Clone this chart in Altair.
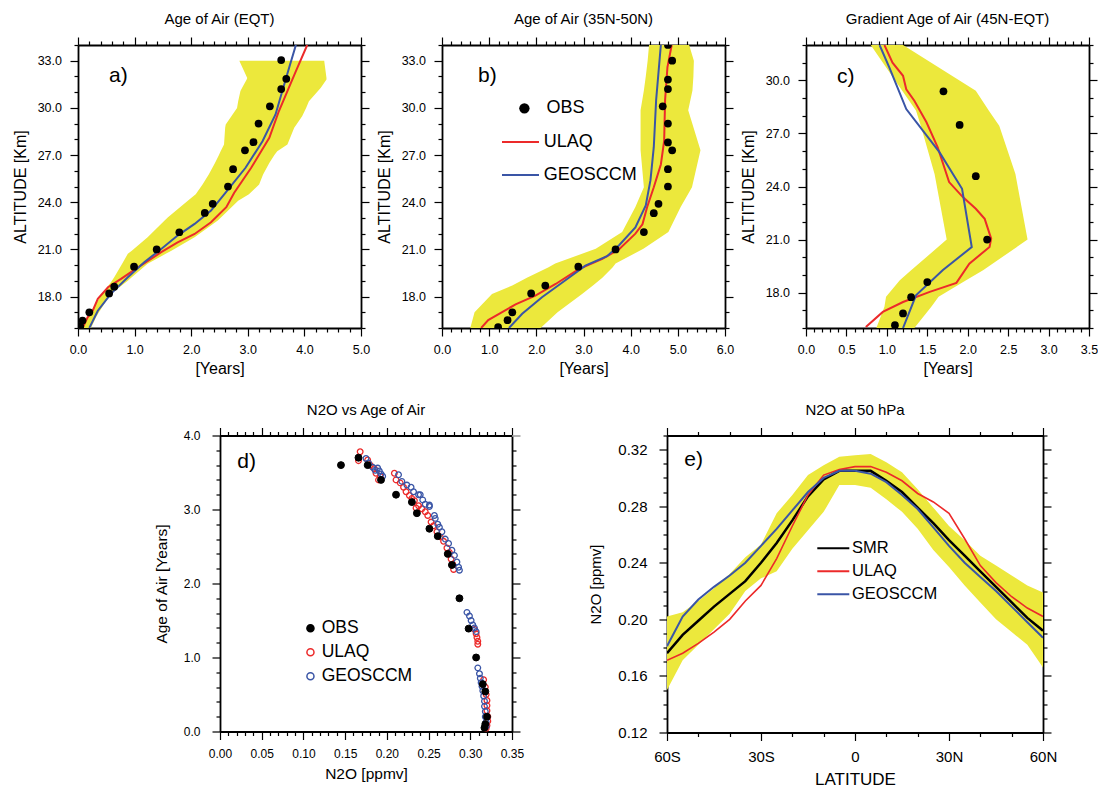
import altair as alt
import pandas as pd

FONT = "Liberation Sans"
YELLOW = "#ece83c"
RED = "#ec2a2a"
BLUE = "#3a55a6"
LINE_SYMBOL = "M-2,0L2,0"

# ---------------- panel a : Age of Air (EQT) ----------------
a_obs_age = [3.59, 3.68, 3.59, 3.39, 3.19, 3.10, 2.95, 2.74, 2.65, 2.38, 2.24, 1.79, 1.39, 0.99, 0.64, 0.55, 0.20, 0.08, 0.04]
a_obs_alt = [33.04, 31.85, 31.2, 30.1, 29.0, 27.82, 27.3, 26.1, 25.0, 23.9, 23.32, 22.09, 21.0, 19.9, 18.63, 18.2, 17.0, 16.47, 16.1]
a_ulaq_age = [0.08, 0.17, 0.26, 0.35, 0.53, 0.76, 1.06, 1.47, 1.76, 2.06, 2.35, 2.62, 2.76, 3.06, 3.38, 3.55, 3.70, 3.85, 4.05]
a_ulaq_alt = [16.0, 16.68, 17.1, 17.85, 18.59, 19.12, 19.86, 20.82, 21.45, 21.98, 22.73, 23.68, 24.6, 26.19, 28.1, 29.8, 31.07, 32.34, 34.0]
a_geos_age = [0.20, 0.35, 0.58, 0.88, 1.17, 1.47, 1.76, 2.06, 2.35, 2.59, 2.96, 3.26, 3.49, 3.61, 3.73, 3.85]
a_geos_alt = [16.0, 17.1, 18.17, 19.23, 20.18, 21.03, 21.88, 22.62, 23.47, 24.53, 26.19, 27.88, 29.58, 31.07, 32.55, 34.0]
a_band_alt = [16.0, 16.7, 17.0, 17.74, 18.17, 19.0, 19.22, 20.08, 20.72, 20.92, 21.77, 22.83, 23.05, 24.1, 24.5,
              25.13, 25.76, 26.5, 27.0, 27.25, 27.67, 28.73, 28.94, 29.47, 30.0, 30.43, 31.07, 31.28, 31.81, 31.9, 33.0]
a_band_lo = [0.06, 0.17, 0.22, 0.35, 0.43, 0.60, 0.64, 0.78, 0.88, 0.95, 1.23, 1.53, 1.59, 1.94, 2.08,
             2.20, 2.31, 2.42, 2.49, 2.52, 2.58, 2.60, 2.61, 2.71, 2.81, 2.83, 2.87, 2.90, 2.98, 2.99, 2.85]
a_band_hi = [0.23, 0.32, 0.37, 0.50, 0.58, 0.88, 0.95, 1.23, 1.55, 1.65, 2.06, 2.47, 2.53, 2.83, 3.02,
             3.20, 3.27, 3.38, 3.47, 3.52, 3.70, 3.82, 3.86, 3.96, 4.03, 4.08, 4.24, 4.29, 4.39, 4.39, 4.35]

# ---------------- panel b : Age of Air (35N-50N) ----------------
b_obs_age = [4.79, 4.88, 4.79, 4.79, 4.68, 4.79, 4.79, 4.88, 4.79, 4.79, 4.59, 4.49, 4.28, 3.68, 2.89, 2.19, 1.89, 1.49, 1.39, 1.19]
b_obs_alt = [34.0, 33.0, 31.8, 31.2, 30.1, 29.0, 27.8, 27.3, 26.1, 25.0, 23.9, 23.3, 22.1, 21.0, 19.9, 18.7, 18.2, 17.0, 16.5, 16.05]
b_ulaq_age = [0.83, 0.98, 1.56, 1.98, 2.41, 2.90, 3.40, 3.75, 4.10, 4.25, 4.35, 4.49, 4.64, 4.71, 4.73, 4.78, 4.87]
b_ulaq_alt = [16.0, 16.5, 17.5, 18.06, 18.8, 19.75, 20.4, 21.0, 22.0, 22.6, 23.7, 24.95, 26.4, 27.9, 30.5, 32.6, 34.0]
b_geos_age = [1.42, 1.70, 2.12, 2.69, 3.04, 3.50, 3.75, 4.10, 4.32, 4.42, 4.49, 4.54, 4.64]
b_geos_alt = [16.0, 16.9, 17.96, 19.2, 19.97, 20.57, 21.25, 22.4, 23.8, 25.4, 27.5, 30.5, 34.0]
b_band_alt = [16.0, 17.0, 18.17, 18.7, 19.2, 19.87, 20.1, 21.04, 22.1, 23.7, 24.95, 27.3, 29.85, 31.1, 32.0, 33.0, 34.0]
b_band_lo = [0.60, 0.69, 1.06, 1.49, 1.80, 2.26, 2.40, 3.26, 3.82, 4.10, 4.28, 4.21, 4.21, 4.28, 4.32, 4.36, 4.39]
b_band_hi = [2.09, 2.45, 2.97, 3.20, 3.40, 3.62, 3.68, 4.27, 4.80, 5.06, 5.30, 5.48, 5.22, 5.31, 5.33, 5.34, 5.24]

# ---------------- panel c : Gradient Age of Air (45N-EQT) ----------------
c_obs_age = [1.70, 1.90, 2.10, 2.24, 1.50, 1.30, 1.20, 1.10]
c_obs_alt = [29.38, 27.48, 24.58, 21.0, 18.6, 17.74, 16.82, 16.16]
c_ulaq_age = [0.74, 0.95, 1.20, 1.53, 1.86, 2.02, 2.27, 2.29, 2.21, 2.10, 1.94, 1.77, 1.63, 1.49, 1.34, 1.24, 1.20, 1.07, 0.97]
c_ulaq_alt = [16.06, 16.91, 17.47, 18.04, 18.55, 19.64, 20.58, 21.05, 22.17, 22.74, 23.4, 24.25, 26.2, 27.63, 28.85, 29.5, 30.26, 31.0, 32.0]
c_geos_age = [1.20, 1.36, 1.69, 2.05, 1.93, 1.65, 1.24, 1.03, 0.91]
c_geos_alt = [16.0, 17.85, 19.26, 20.58, 23.87, 25.94, 28.38, 30.73, 32.0]
c_band_alt = [16.0, 17.2, 17.76, 18.7, 19.26, 21.0, 24.7, 27.44, 28.3, 29.42, 32.0]
c_band_lo = [0.87, 0.97, 0.99, 1.16, 1.30, 1.74, 1.59, 1.42, 1.36, 1.19, 0.80]
c_band_hi = [1.34, 1.55, 1.64, 1.98, 2.19, 2.74, 2.59, 2.39, 2.26, 2.10, 1.20]

# ---------------- panel d : N2O vs Age of Air ----------------
d_obs_n2o = [0.145, 0.166, 0.177, 0.193, 0.211, 0.230, 0.236, 0.251, 0.261, 0.273, 0.278, 0.287, 0.298, 0.307, 0.315, 0.318, 0.320, 0.318, 0.317]
d_obs_age = [3.60, 3.70, 3.60, 3.40, 3.20, 3.10, 2.95, 2.74, 2.64, 2.40, 2.25, 1.80, 1.39, 1.00, 0.64, 0.54, 0.20, 0.10, 0.05]
d_ulaq_n2o = [0.168, 0.166, 0.177, 0.180, 0.185, 0.187, 0.190, 0.192,
              0.209, 0.211, 0.216, 0.220, 0.223, 0.227, 0.230, 0.233, 0.235, 0.238, 0.242, 0.246, 0.249,
              0.253, 0.256, 0.260, 0.264, 0.268, 0.272, 0.275, 0.277, 0.279, 0.280,
              0.305, 0.307, 0.308, 0.309, 0.309,
              0.316, 0.318, 0.319, 0.320, 0.320, 0.320, 0.321, 0.321, 0.320, 0.319]
d_ulaq_age = [3.78, 3.66, 3.67, 3.60, 3.55, 3.49, 3.40, 3.45,
              3.49, 3.40, 3.36, 3.30, 3.24, 3.19, 3.15, 3.12, 3.02, 3.05, 3.01, 2.97, 2.92,
              2.83, 2.78, 2.70, 2.63, 2.57, 2.48, 2.42, 2.33, 2.26, 2.19,
              1.38, 1.32, 1.27, 1.22, 1.18,
              0.70, 0.60, 0.50, 0.42, 0.35, 0.28, 0.20, 0.14, 0.08, 0.04]
d_geos_n2o = [0.175, 0.178, 0.183, 0.189, 0.191, 0.193, 0.195, 0.186,
              0.214, 0.218, 0.224, 0.229, 0.232, 0.238, 0.240, 0.243, 0.246, 0.251, 0.251, 0.257,
              0.258, 0.261, 0.263, 0.266, 0.270, 0.274, 0.278, 0.281, 0.284, 0.286, 0.287,
              0.296, 0.299, 0.301, 0.303, 0.305, 0.307,
              0.309, 0.311, 0.312, 0.313, 0.314, 0.315, 0.316, 0.317, 0.317, 0.318, 0.318, 0.319, 0.319]
d_geos_age = [3.69, 3.63, 3.57, 3.56, 3.52, 3.48, 3.45, 3.53,
              3.47, 3.38, 3.33, 3.30, 3.24, 3.20, 3.20, 3.13, 3.07, 3.04, 3.06, 2.92,
              2.88, 2.80, 2.76, 2.70, 2.60, 2.54, 2.45, 2.38, 2.29, 2.22, 2.18,
              1.61, 1.56, 1.50, 1.44, 1.40, 1.35,
              0.86, 0.78, 0.72, 0.66, 0.61, 0.55, 0.48, 0.41, 0.34, 0.27, 0.20, 0.13, 0.07]

# ---------------- panel e : N2O at 50 hPa ----------------
e_lat = [-60, -55, -50, -45, -40, -35, -30, -25, -20, -15, -10, -5, 0, 5, 10, 15, 20, 25, 30, 35, 40, 45, 50, 55, 60]
e_smr = [0.176, 0.189, 0.199, 0.209, 0.218, 0.227, 0.240, 0.254, 0.270, 0.287, 0.299, 0.305, 0.305, 0.305, 0.298, 0.290, 0.279, 0.268, 0.256, 0.245, 0.234, 0.223, 0.212, 0.201, 0.192]
e_ulaq = [0.171, 0.176, 0.183, 0.191, 0.200, 0.213, 0.224, 0.243, 0.266, 0.288, 0.302, 0.306, 0.308, 0.308, 0.304, 0.298, 0.289, 0.283, 0.275, 0.257, 0.238, 0.226, 0.216, 0.208, 0.202]
e_geos = [0.181, 0.202, 0.214, 0.223, 0.231, 0.240, 0.252, 0.264, 0.277, 0.290, 0.300, 0.305, 0.305, 0.303, 0.297, 0.288, 0.278, 0.265, 0.252, 0.240, 0.230, 0.220, 0.209, 0.198, 0.187]
e_band_lo = [0.150, 0.171, 0.182, 0.193, 0.204, 0.220, 0.229, 0.234, 0.250, 0.263, 0.276, 0.295, 0.295, 0.293, 0.285, 0.276, 0.264, 0.249, 0.237, 0.224, 0.212, 0.200, 0.191, 0.182, 0.166]
e_band_hi = [0.202, 0.205, 0.213, 0.222, 0.232, 0.244, 0.253, 0.275, 0.288, 0.302, 0.309, 0.315, 0.316, 0.317, 0.311, 0.304, 0.292, 0.279, 0.266, 0.256, 0.245, 0.238, 0.231, 0.224, 0.219]


def ticks(start, stop, step):
    n = int(round((stop - start) / step))
    return [round(start + i * step, 4) for i in range(n + 1)]


def multiple_of(m):
    return f"abs(datum.value / {m} - round(datum.value / {m})) < 1e-6"


def num_labels(test, fmt):
    return f"{test} ? format(datum.value, '{fmt}') : ''"


def make_axis(orient, values, test, labels=None, title=None, lsize=12.5, tsize=16, tpad=8, lpad=6):
    kw = dict(orient=orient, values=values, grid=False, domain=True, domainColor="black",
              domainWidth=1.8, ticks=True, tickColor="black", tickWidth=1.2,
              tickSize={"condition": {"test": test, "value": 8}, "value": 4})
    if labels:
        kw.update(labels=True, labelExpr=labels, labelFont=FONT, labelFontSize=lsize,
                  labelColor="black", labelPadding=lpad, labelFlush=False, labelOverlap=False)
    else:
        kw.update(labels=False)
    if title:
        kw.update(title=title, titleFont=FONT, titleFontSize=tsize, titleFontWeight="normal",
                  titleColor="black", titlePadding=tpad)
    else:
        kw["title"] = None
    return alt.Axis(**kw)


def panel_title(text):
    return alt.TitleParams(text=text, font=FONT, fontSize=15, fontWeight="normal",
                           color="black", offset=9)


def letter_layer(letter, x, y):
    return alt.Chart(pd.DataFrame({"t": [letter]})).mark_text(
        align="left", baseline="alphabetic", font=FONT, fontSize=21, color="black"
    ).encode(text="t:N", x=alt.value(x), y=alt.value(y))


def profile_panel(title, letter, lpos, obs_x, obs_y, ul_x, ul_y, ge_x, ge_y,
                  band_y, band_lo, band_hi, xdom, xstep_minor, xmajor, ydom, legends=False):
    xs = alt.Scale(domain=xdom, nice=False, zero=False)
    ys = alt.Scale(domain=ydom, nice=False, zero=False)
    xvals = ticks(xdom[0], xdom[1], xstep_minor)
    yvals = ticks(ydom[0], ydom[1], 1)
    xt = multiple_of(xmajor)
    yt = multiple_of(3)
    xb = make_axis("bottom", xvals, xt, num_labels(xt, ".1f"), "[Years]", tpad=5, lpad=7)
    yl = make_axis("left", yvals, yt, num_labels(yt, ".1f"), "ALTITUDE [Km]", tpad=9, lpad=8.5)
    xtop = make_axis("top", xvals, xt)
    yright = make_axis("right", yvals, yt)

    band_df = pd.DataFrame({"alt": band_y, "lo": band_lo, "hi": band_hi})
    lines_df = pd.DataFrame({
        "age": ul_x + ge_x,
        "alt": ul_y + ge_y,
        "model": ["ULAQ"] * len(ul_x) + ["GEOSCCM"] * len(ge_x),
    })
    obs_df = pd.DataFrame({"age": obs_x, "alt": obs_y, "k": ["OBS"] * len(obs_x)})

    band = alt.Chart(band_df).mark_area(orient="horizontal", color=YELLOW, clip=True).encode(
        y=alt.Y("alt:Q", scale=ys, axis=yl), x=alt.X("lo:Q", scale=xs, axis=xb), x2="hi:Q")

    if legends:
        line_leg = alt.Legend(orient="none", legendX=68, legendY=86.5, title=None,
                              symbolType=LINE_SYMBOL, symbolSize=342, symbolStrokeWidth=2,
                              labelFont=FONT, labelFontSize=18, labelColor="black",
                              labelOffset=12.7, rowPadding=13, padding=0)
    else:
        line_leg = None
    lines = alt.Chart(lines_df).mark_line(strokeWidth=2, clip=True).encode(
        x=alt.X("age:Q", scale=xs, axis=xb), y=alt.Y("alt:Q", scale=ys, axis=yl),
        stroke=alt.Stroke("model:N", scale=alt.Scale(domain=["ULAQ", "GEOSCCM"], range=[RED, BLUE]),
                          legend=line_leg),
        order="alt:Q")

    enc = dict(x=alt.X("age:Q", scale=xs, axis=xb), y=alt.Y("alt:Q", scale=ys, axis=yl))
    if legends:
        enc["shape"] = alt.Shape("k:N", scale=alt.Scale(domain=["OBS"], range=["circle"]),
                                 legend=alt.Legend(orient="none", legendX=73.4, legendY=54.3, title=None,
                                                   symbolSize=107, symbolFillColor="black",
                                                   symbolStrokeColor="black", labelFont=FONT,
                                                   labelFontSize=18, labelColor="black",
                                                   labelOffset=13, padding=0))
    dots = alt.Chart(obs_df).mark_point(filled=True, size=60, color="black", opacity=1, clip=True).encode(**enc)

    frame = alt.Chart(obs_df).mark_point(opacity=0).encode(
        x=alt.X("age:Q", scale=xs, axis=xtop), y=alt.Y("alt:Q", scale=ys, axis=yright))

    inner = alt.layer(band, lines, dots, letter_layer(letter, *lpos))
    return alt.layer(inner, frame).resolve_axis(x="independent", y="independent").properties(
        width=283, height=283, title=panel_title(title))


pa = profile_panel("Age of Air (EQT)", "a)", (31, 36.5), a_obs_age, a_obs_alt, a_ulaq_age, a_ulaq_alt,
                   a_geos_age, a_geos_alt, a_band_alt, a_band_lo, a_band_hi, [0, 5], 0.2, 1, [16, 34])
pb = profile_panel("Age of Air (35N-50N)", "b)", (36, 36.5), b_obs_age, b_obs_alt, b_ulaq_age, b_ulaq_alt,
                   b_geos_age, b_geos_alt, b_band_alt, b_band_lo, b_band_hi, [0, 6], 0.2, 1, [16, 34],
                   legends=True)
pc = profile_panel("Gradient Age of Air (45N-EQT)", "c)", (31, 37.5), c_obs_age, c_obs_alt, c_ulaq_age,
                   c_ulaq_alt, c_geos_age, c_geos_alt, c_band_alt, c_band_lo, c_band_hi, [0, 3.5], 0.1,
                   0.5, [16, 32])

# ---------------- panel d ----------------
d_xs = alt.Scale(domain=[0, 0.35], nice=False, zero=False)
d_ys = alt.Scale(domain=[0, 4], nice=False, zero=False)
d_xvals = ticks(0, 0.35, 0.01)
d_yvals = ticks(0, 4, 0.2)
d_xt = multiple_of(0.05)
d_yt = multiple_of(1)
d_xb = make_axis("bottom", d_xvals, d_xt, num_labels(d_xt, ".2f"), "N2O [ppmv]", lsize=12, tsize=15.5, tpad=7, lpad=9)
d_yl = make_axis("left", d_yvals, d_yt, num_labels(d_yt, ".1f"), "Age of Air [Years]", lsize=12, tsize=15.5, tpad=14, lpad=12)
d_xtop = make_axis("top", d_xvals, d_xt)
d_yright = make_axis("right", d_yvals, d_yt)

d_models = pd.DataFrame({
    "n2o": d_ulaq_n2o + d_geos_n2o,
    "age": d_ulaq_age + d_geos_age,
    "series": ["ULAQ"] * len(d_ulaq_n2o) + ["GEOSCCM"] * len(d_geos_n2o),
})
d_obs = pd.DataFrame({"n2o": d_obs_n2o, "age": d_obs_age, "series": ["OBS"] * len(d_obs_n2o)})
d_dom = ["OBS", "ULAQ", "GEOSCCM"]
d_leg = alt.Legend(orient="none", legendX=81.7, legendY=184, title=None, symbolSize=50,
                   symbolStrokeWidth=1.5, labelFont=FONT, labelFontSize=17.5, labelColor="black",
                   labelOffset=2.5, rowPadding=5, padding=0)
d_fill = alt.Fill("series:N", scale=alt.Scale(domain=d_dom, range=["black", "transparent", "transparent"]), legend=d_leg)
d_stroke = alt.Stroke("series:N", scale=alt.Scale(domain=d_dom, range=["black", RED, BLUE]), legend=d_leg)
d_ring = alt.Chart(d_models).mark_point(size=32, strokeWidth=1.3, opacity=1, clip=True).encode(
    x=alt.X("n2o:Q", scale=d_xs, axis=d_xb), y=alt.Y("age:Q", scale=d_ys, axis=d_yl),
    fill=d_fill, stroke=d_stroke)
d_dot = alt.Chart(d_obs).mark_point(size=48, strokeWidth=1, opacity=1, clip=True).encode(
    x=alt.X("n2o:Q", scale=d_xs, axis=d_xb), y=alt.Y("age:Q", scale=d_ys, axis=d_yl),
    fill=d_fill, stroke=d_stroke)
d_frame = alt.Chart(d_obs).mark_point(opacity=0).encode(
    x=alt.X("n2o:Q", scale=d_xs, axis=d_xtop), y=alt.Y("age:Q", scale=d_ys, axis=d_yright))
pd_ = alt.layer(alt.layer(d_ring, d_dot, letter_layer("d)", 17.3, 32.8)), d_frame).resolve_axis(
    x="independent", y="independent").properties(width=292, height=296, title=panel_title("N2O vs Age of Air"))

# ---------------- panel e ----------------
e_xs = alt.Scale(domain=[-60, 60], nice=False, zero=False)
e_ys = alt.Scale(domain=[0.12, 0.33], nice=False, zero=False)
e_xvals = ticks(-60, 60, 10)
e_yvals = ticks(0.12, 0.33, 0.01)
e_xt = multiple_of(30)
e_yt = f"abs((datum.value - 0.12) / 0.04 - round((datum.value - 0.12) / 0.04)) < 1e-6"
e_xlab = (f"{e_xt} ? (datum.value < 0 ? format(-datum.value, 'd') + 'S' : "
          f"(datum.value > 0 ? format(datum.value, 'd') + 'N' : '0')) : ''")
e_xb = make_axis("bottom", e_xvals, e_xt, e_xlab, "LATITUDE", lsize=15, tsize=17, tpad=6.5, lpad=9)
e_yl = make_axis("left", e_yvals, e_yt, num_labels(e_yt, ".2f"), "N2O [ppmv]", lsize=15, tsize=15, tpad=14, lpad=12)
e_xtop = make_axis("top", e_xvals, e_xt)
e_yright = make_axis("right", e_yvals, e_yt)

e_band_df = pd.DataFrame({"lat": e_lat, "lo": e_band_lo, "hi": e_band_hi})
e_dom = ["SMR", "ULAQ", "GEOSCCM"]
e_leg = alt.Legend(orient="none", legendX=157.3, legendY=103.8, title=None, symbolType=LINE_SYMBOL,
                   symbolSize=256, symbolStrokeWidth=2, labelFont=FONT, labelFontSize=16.5,
                   labelColor="black", labelOffset=9.7, rowPadding=5, padding=0)
e_stroke = alt.Stroke("model:N", scale=alt.Scale(domain=e_dom, range=["black", RED, BLUE]), legend=e_leg)
e_band = alt.Chart(e_band_df).mark_area(color=YELLOW, clip=True).encode(
    x=alt.X("lat:Q", scale=e_xs, axis=e_xb), y=alt.Y("lo:Q", scale=e_ys, axis=e_yl), y2="hi:Q")


def e_line(values, name, width):
    df = pd.DataFrame({"lat": e_lat, "n2o": values, "model": [name] * len(e_lat)})
    return alt.Chart(df).mark_line(strokeWidth=width, clip=True).encode(
        x=alt.X("lat:Q", scale=e_xs, axis=e_xb), y=alt.Y("n2o:Q", scale=e_ys, axis=e_yl), stroke=e_stroke)


e_frame = alt.Chart(e_band_df).mark_point(opacity=0).encode(
    x=alt.X("lat:Q", scale=e_xs, axis=e_xtop), y=alt.Y("lo:Q", scale=e_ys, axis=e_yright))
pe = alt.layer(alt.layer(e_band, e_line(e_smr, "SMR", 2.5), e_line(e_ulaq, "ULAQ", 1.6),
                         e_line(e_geos, "GEOSCCM", 2.0), letter_layer("e)", 17.3, 30.5)),
               e_frame).resolve_axis(x="independent", y="independent").properties(
    width=376, height=297, title=panel_title("N2O at 50 hPa"))


def spacer(w):
    return alt.Chart(pd.DataFrame({"s": [0]})).mark_point(opacity=0).encode(
        x=alt.X("s:Q", axis=None), y=alt.Y("s:Q", axis=None)).properties(
        width=w, height=1, view=alt.ViewBackground(fill="white", stroke=None))


RES = dict(stroke="independent", fill="independent", shape="independent")
top = alt.hconcat(pa, pb, pc, spacing=81, bounds="flush").resolve_scale(**RES)
bottom = alt.hconcat(spacer(142), pd_, spacer(155), pe, spacing=0, bounds="flush").resolve_scale(**RES)
chart = alt.vconcat(top, bottom, spacing=25.5).resolve_scale(**RES).properties(
    padding={"left": 12, "top": 12, "right": 0, "bottom": 0}, background="white"
).configure_view(stroke=None)

chart.save("out.html", embed_options={"renderer": "svg", "actions": False})
